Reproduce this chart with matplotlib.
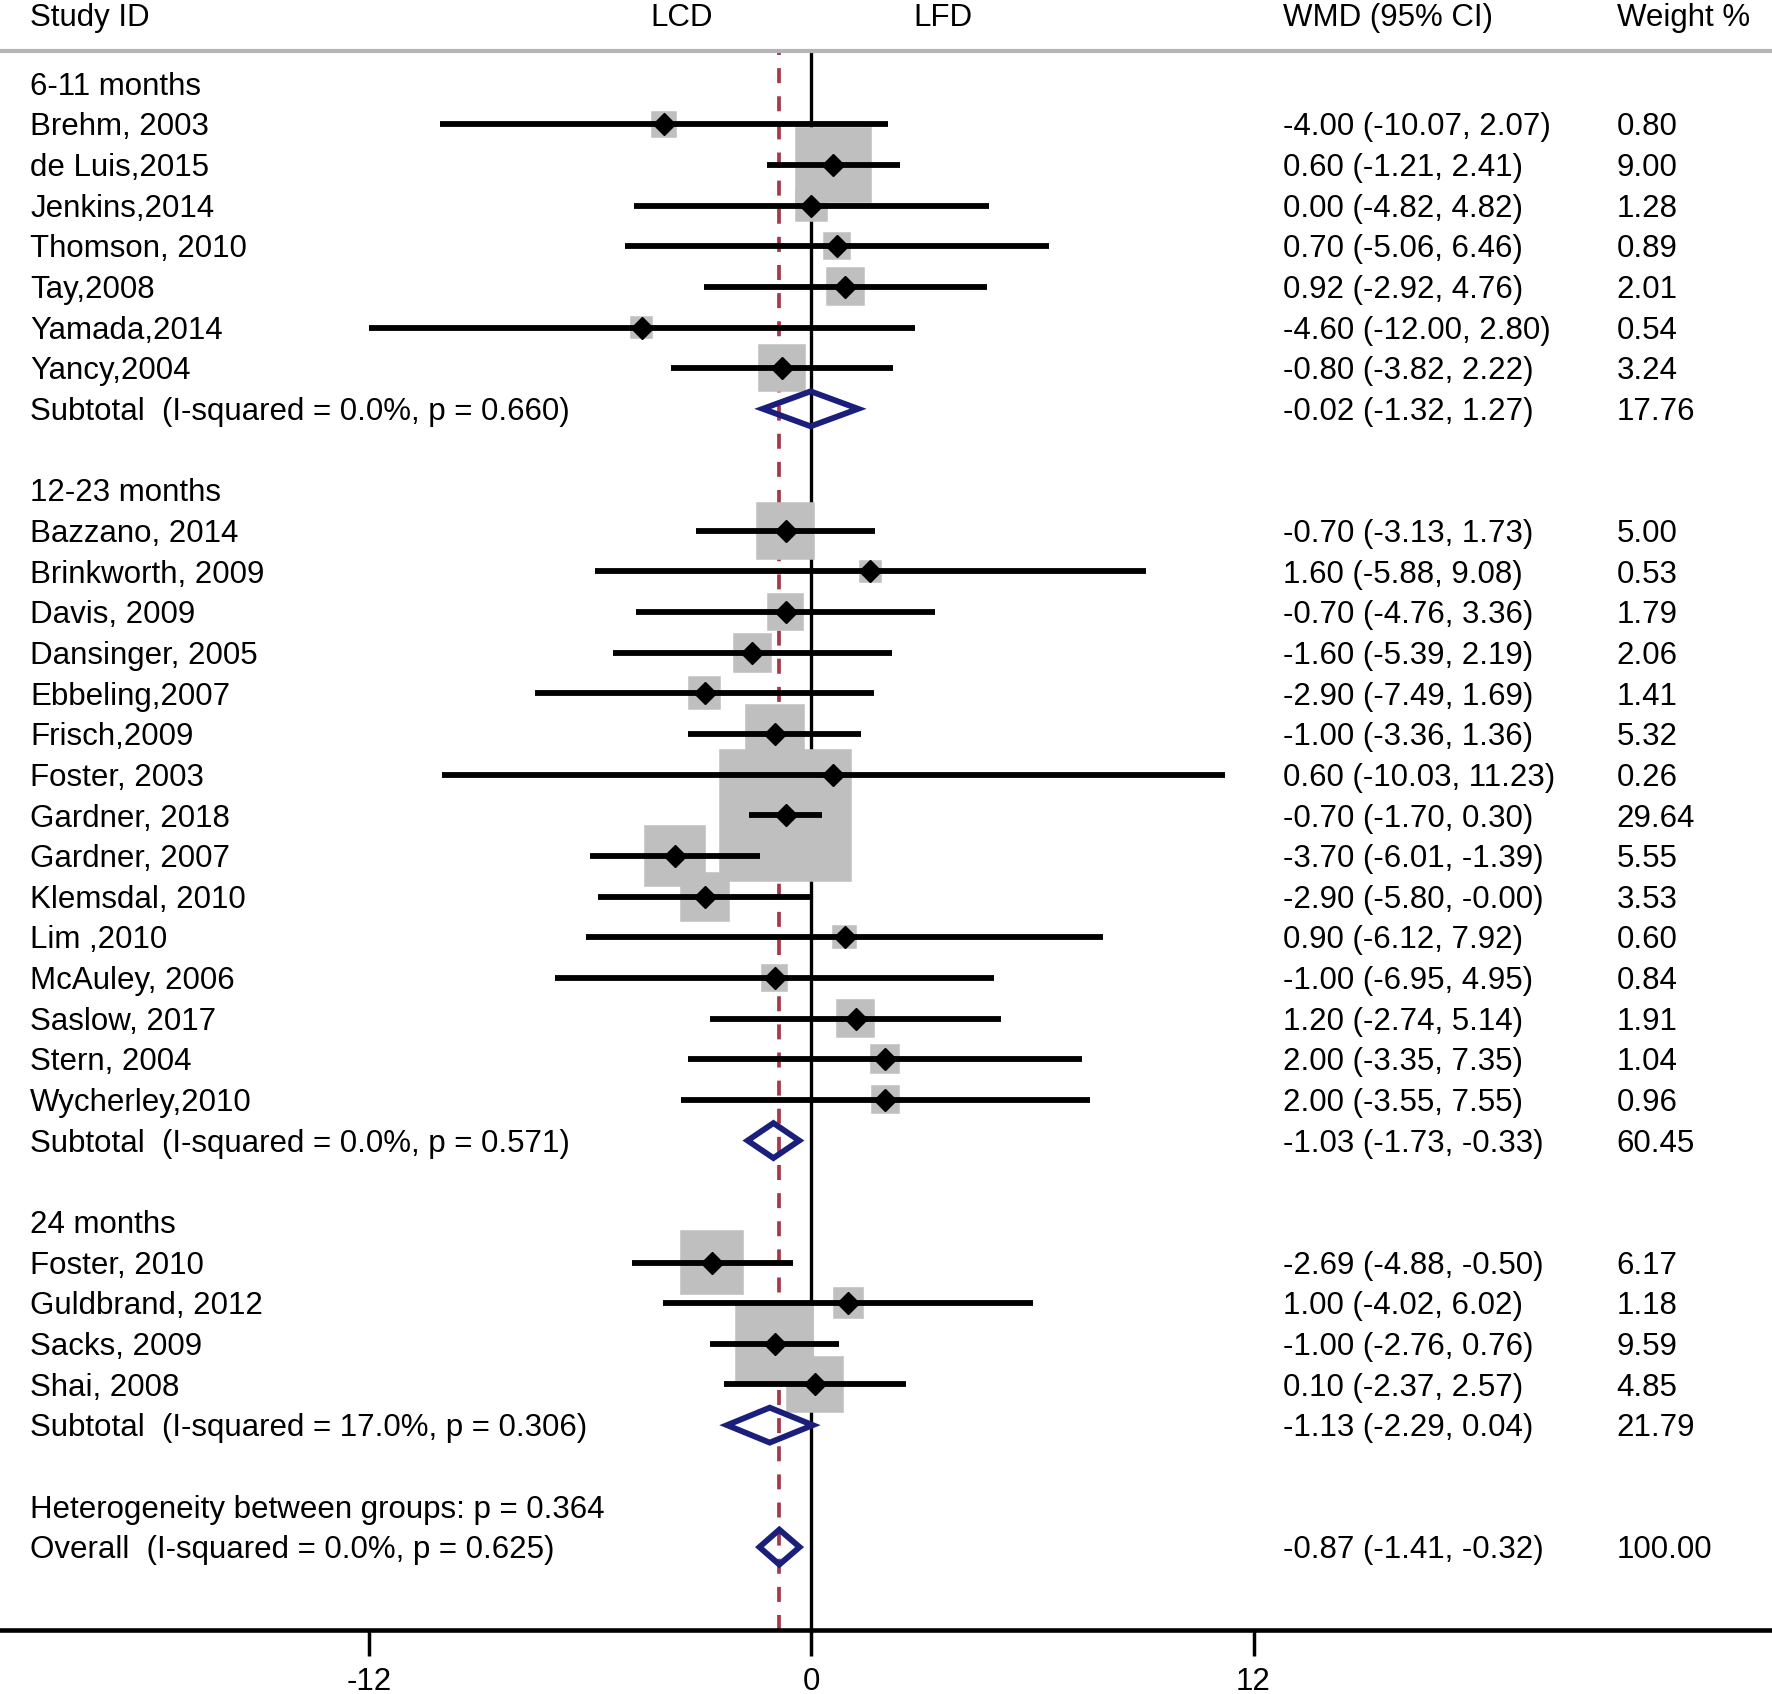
import numpy as np
import matplotlib.pyplot as plt
from matplotlib.patches import Rectangle, Polygon

plt.rcParams['font.family'] = ['Liberation Sans', 'DejaVu Sans']

# 6-11 months
g1_names = ["Brehm, 2003", "de Luis,2015", "Jenkins,2014", "Thomson, 2010",
            "Tay,2008", "Yamada,2014", "Yancy,2004"]
g1_est = [-4.00, 0.60, 0.00, 0.70, 0.92, -4.60, -0.80]
g1_lo = [-10.07, -1.21, -4.82, -5.06, -2.92, -12.00, -3.82]
g1_hi = [2.07, 2.41, 4.82, 6.46, 4.76, 2.80, 2.22]
g1_wt = [0.80, 9.00, 1.28, 0.89, 2.01, 0.54, 3.24]
g1_sub = [-0.02, -1.32, 1.27, 17.76]
g1_het = "I-squared = 0.0%, p = 0.660"

# 12-23 months
g2_names = ["Bazzano, 2014", "Brinkworth, 2009", "Davis, 2009", "Dansinger, 2005",
            "Ebbeling,2007", "Frisch,2009", "Foster, 2003", "Gardner, 2018",
            "Gardner, 2007", "Klemsdal, 2010", "Lim ,2010", "McAuley, 2006",
            "Saslow, 2017", "Stern, 2004", "Wycherley,2010"]
g2_est = [-0.70, 1.60, -0.70, -1.60, -2.90, -1.00, 0.60, -0.70,
          -3.70, -2.90, 0.90, -1.00, 1.20, 2.00, 2.00]
g2_lo = [-3.13, -5.88, -4.76, -5.39, -7.49, -3.36, -10.03, -1.70,
         -6.01, -5.80, -6.12, -6.95, -2.74, -3.35, -3.55]
g2_hi = [1.73, 9.08, 3.36, 2.19, 1.69, 1.36, 11.23, 0.30,
         -1.39, -0.0, 7.92, 4.95, 5.14, 7.35, 7.55]
g2_wt = [5.00, 0.53, 1.79, 2.06, 1.41, 5.32, 0.26, 29.64,
         5.55, 3.53, 0.60, 0.84, 1.91, 1.04, 0.96]
g2_sub = [-1.03, -1.73, -0.33, 60.45]
g2_het = "I-squared = 0.0%, p = 0.571"

# 24 months
g3_names = ["Foster, 2010", "Guldbrand, 2012", "Sacks, 2009", "Shai, 2008"]
g3_est = [-2.69, 1.00, -1.00, 0.10]
g3_lo = [-4.88, -4.02, -2.76, -2.37]
g3_hi = [-0.50, 6.02, 0.76, 2.57]
g3_wt = [6.17, 1.18, 9.59, 4.85]
g3_sub = [-1.13, -2.29, 0.04, 21.79]
g3_het = "I-squared = 17.0%, p = 0.306"

group_titles = ["6-11 months", "12-23 months", "24 months"]
between_text = "Heterogeneity between groups: p = 0.364"
overall = [-0.87, -1.41, -0.32, 100.00]
overall_het = "I-squared = 0.0%, p = 0.625"

groups = [
    (g1_names, g1_est, g1_lo, g1_hi, g1_wt, g1_sub, g1_het),
    (g2_names, g2_est, g2_lo, g2_hi, g2_wt, g2_sub, g2_het),
    (g3_names, g3_est, g3_lo, g3_hi, g3_wt, g3_sub, g3_het),
]

FS = 22.5
TXT_DY = 0.275   # baseline offset so caps sit centred on the row
X_LABEL = -21.2
X_WMD = 12.8
X_WT = 21.85
BOX_W = 0.636    # box side in x units per sqrt(weight)
BOX_H = 0.576    # box side in row units per sqrt(weight)
DIA_H = 0.43
GREY = "#bfbfbf"
NAVY = "#1b1f7c"
RED = "#a3394a"

fig = plt.figure(figsize=(17.72, 16.94), dpi=100)
ax = fig.add_axes([0, 0.038, 1, 0.932])
ax.set_xlim(-22.02, 26.07)
ax.set_ylim(38.03, -0.806)


def label(x, y, s, **kw):
    ax.text(x, y + TXT_DY, s, fontsize=FS, va="baseline", **kw)


def ci_text(e, l, h):
    return f"{e:.2f} ({l:.2f}, {h:.2f})"


def diamond(row, e, l, h):
    ax.add_patch(Polygon([[l, row], [e, row - DIA_H], [h, row], [e, row + DIA_H]],
                         closed=True, fill=False, edgecolor=NAVY, lw=4.2,
                         joinstyle="miter", zorder=5))


ax.axvline(0, color="black", lw=2.4, zorder=1)
ax.axvline(overall[0], color=RED, lw=2.7, dashes=(4.0, 3.5), zorder=1)

row = 0
for title, (names, est, lo, hi, wt, sub, het) in zip(group_titles, groups):
    label(X_LABEL, row, title, ha="left")
    row += 1
    for n, e, l, h, w in zip(names, est, lo, hi, wt):
        bw = BOX_W * np.sqrt(w)
        bh = BOX_H * np.sqrt(w)
        ax.add_patch(Rectangle((e - bw / 2, row - bh / 2), bw, bh,
                               facecolor=GREY, edgecolor=GREY, lw=4,
                               joinstyle="miter", zorder=2))
        ax.plot([l, h], [row, row], color="black", lw=4.2, solid_capstyle="butt", zorder=3)
        ax.plot(e, row, marker="D", color="black", markersize=11.5, zorder=4)
        label(X_LABEL, row, n, ha="left")
        label(X_WMD, row, ci_text(e, l, h), ha="left")
        label(X_WT, row, f"{w:.2f}", ha="left")
        row += 1
    diamond(row, sub[0], sub[1], sub[2])
    label(X_LABEL, row, f"Subtotal  ({het})", ha="left")
    label(X_WMD, row, ci_text(sub[0], sub[1], sub[2]), ha="left")
    label(X_WT, row, f"{sub[3]:.2f}", ha="left")
    row += 2

label(X_LABEL, row, between_text, ha="left")
row += 1
diamond(row, overall[0], overall[1], overall[2])
label(X_LABEL, row, f"Overall  ({overall_het})", ha="left")
label(X_WMD, row, ci_text(overall[0], overall[1], overall[2]), ha="left")
label(X_WT, row, f"{overall[3]:.2f}", ha="left")

# column headers above the grey rule
hy = -1.686
label(X_LABEL, hy, "Study ID", ha="left", clip_on=False)
label(-3.53, hy, "LCD", ha="center", clip_on=False)
label(3.56, hy, "LFD", ha="center", clip_on=False)
label(X_WMD, hy, "WMD (95% CI)", ha="left", clip_on=False)
label(X_WT, hy, "Weight %", ha="left", clip_on=False)

for s in ["left", "right"]:
    ax.spines[s].set_visible(False)
ax.spines["top"].set_color("#b5b5b5")
ax.spines["top"].set_linewidth(3)
ax.spines["bottom"].set_linewidth(3.3)
ax.set_yticks([])
ax.set_xticks([-12, 0, 12])
ax.set_xticklabels(["-12", "0", "12"])
ax.tick_params(axis="x", direction="out", length=19, width=2.5, pad=8, labelsize=FS)

fig.savefig("out.png", dpi=100)
